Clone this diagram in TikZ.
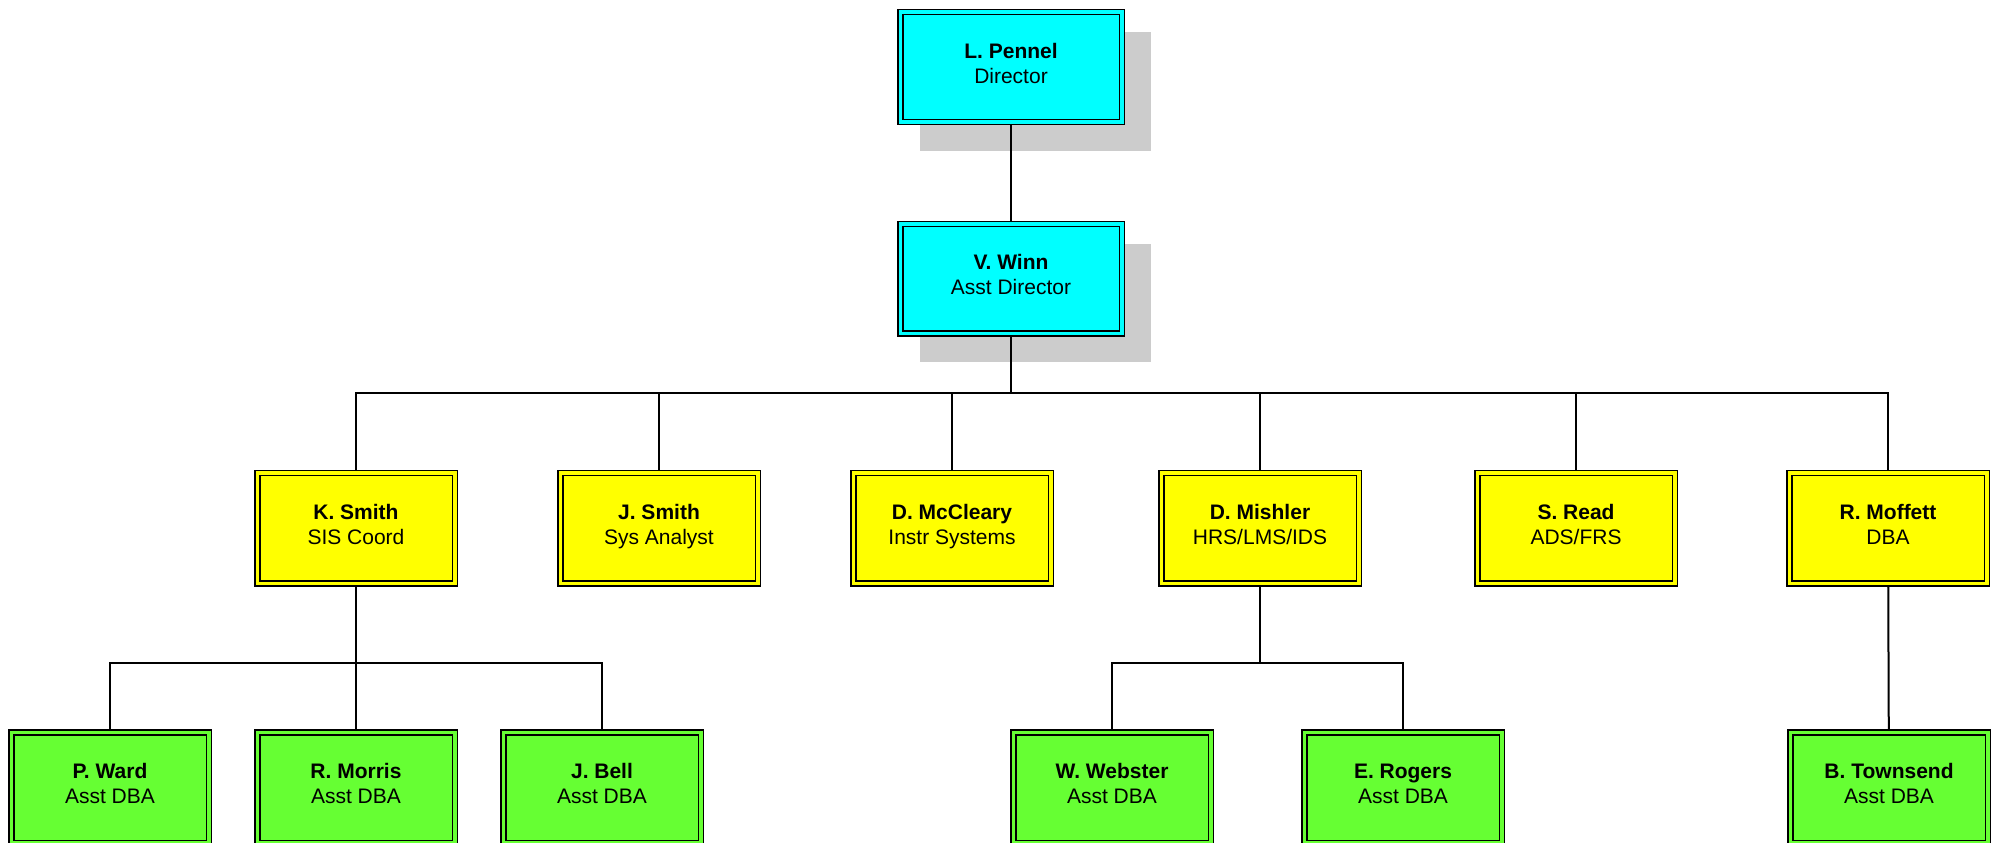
\documentclass[tikz,border=0pt]{standalone}
\usepackage{fontspec}
\setmainfont{Liberation Sans}
\usetikzlibrary{backgrounds}
\definecolor{boxcyan}{RGB}{0,255,255}
\definecolor{boxyellow}{RGB}{255,255,0}
\definecolor{boxgreen}{RGB}{102,255,51}
\definecolor{shadowgray}{RGB}{204,204,204}

\tikzset{
  person/.style={rectangle, draw=black, line width=1.5pt, double distance=3.5pt,
    align=center, inner sep=0pt, minimum width=197.5pt, minimum height=110.5pt,
    font=\fontsize{21}{25}\selectfont,
    execute at begin node={\rule{0pt}{21pt}}, execute at end node=\strut},
  head/.style={person, fill=boxcyan, double=boxcyan, minimum width=221.5pt, minimum height=109.5pt},
  lead/.style={person, fill=boxyellow, double=boxyellow},
  staff/.style={person, fill=boxgreen, double=boxgreen},
  link/.style={line width=2pt}
}

\begin{document}
\begin{tikzpicture}[x=1pt,y=1pt]
\useasboundingbox (0,0) rectangle (2000,-843);

% Director level
\node[head] (lp) at (1011,-67) {\textbf{L. Pennel}\\Director};
\node[head] (vw) at (1011,-278.5) {\textbf{V. Winn}\\Asst Director};

% Section leads
\node[lead] (ks) at (356,-528) {\textbf{K. Smith}\\SIS Coord};
\node[lead] (js) at (659,-528) {\textbf{J. Smith}\\Sys Analyst};
\node[lead] (dmc) at (952,-528) {\textbf{D. McCleary}\\Instr Systems};
\node[lead] (dmi) at (1260,-528) {\textbf{D. Mishler}\\HRS/LMS/IDS};
\node[lead] (sr) at (1576,-528) {\textbf{S. Read}\\ADS/FRS};
\node[lead] (rmo) at (1888,-528) {\textbf{R. Moffett}\\DBA};

% Assistants
\node[staff] (pw) at (110,-787.5) {\textbf{P. Ward}\\Asst DBA};
\node[staff] (rmr) at (356,-787.5) {\textbf{R. Morris}\\Asst DBA};
\node[staff] (jb) at (602,-787.5) {\textbf{J. Bell}\\Asst DBA};
\node[staff] (ww) at (1112,-787.5) {\textbf{W. Webster}\\Asst DBA};
\node[staff] (er) at (1403,-787.5) {\textbf{E. Rogers}\\Asst DBA};
\node[staff] (bt) at (1889,-787.5) {\textbf{B. Townsend}\\Asst DBA};

\begin{scope}[on background layer]
% Shadows
\foreach \n in {lp,vw}
  \fill[shadowgray] ([shift={(20,-28)}]\n.south west) rectangle ([shift={(28,-21)}]\n.north east);

% Connectors
\draw[link] (lp) -- (vw);
\coordinate (bus) at (1011,-393);
\foreach \n in {ks,js,dmc,dmi,sr,rmo}
  \draw[link] (vw.south) -- (bus) -| (\n.north);

\coordinate (ksbus) at (356,-663);
\foreach \n in {pw,rmr,jb}
  \draw[link] (ks.south) -- (ksbus) -| (\n.north);

\coordinate (dmibus) at (1260,-663);
\foreach \n in {ww,er}
  \draw[link] (dmi.south) -- (dmibus) -| (\n.north);

\draw[link] (rmo) -- (bt);
\end{scope}
\end{tikzpicture}
\end{document}
